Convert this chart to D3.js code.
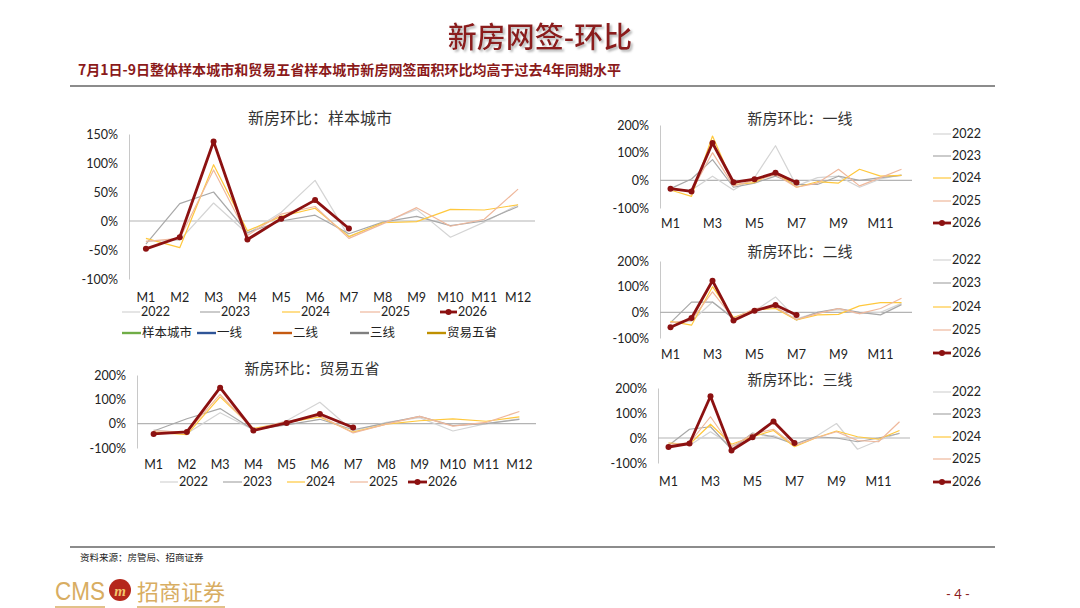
<!DOCTYPE html>
<html>
<head>
<meta charset="utf-8">
<script src="https://cdn.jsdelivr.net/npm/d3@7.9.0/dist/d3.min.js"></script>
<style>
  body { margin: 0; background: #fff; }
  svg { display: block; font-family: Lato, "Noto Sans CJK SC", sans-serif; }
</style>
</head>
<body>
<svg id="slide" width="1080" height="608"></svg>
<script>
// months and series names
const months = ["M1","M2","M3","M4","M5","M6","M7","M8","M9","M10","M11","M12"];
const years = ["2022","2023","2024","2025","2026"];
const yearColors = ["#d4d4d4","#a8a8a8","#ffc83d","#efb89c","#8c1111"];

// 样本城市 (%)
const sample2022 = [-35,-33,31,-22,15,70,-27,-3,20,-28,-2,28];
const sample2023 = [-40,30,50,-20,0,10,-22,-2,8,-8,0,25];
const sample2024 = [-30,-46,97,-17,8,22,-27,-3,-1,20,19,28];
const sample2025 = [-35,-30,88,-25,12,25,-30,-5,23,-9,3,55];
const sample2026 = [-48,-28,137,-32,4,36,-13];

// 贸易五省
const trade2022 = [-25,-40,45,-25,12,88,-30,5,25,-30,0,20];
const trade2023 = [-30,20,62,-25,-5,18,-25,2,30,-8,0,18];
const trade2024 = [-35,-45,110,-20,5,28,-35,-2,12,20,10,28];
const trade2025 = [-30,-35,120,-25,10,32,-38,-2,30,-10,5,50];
const trade2026 = [-42,-34,148,-28,3,40,-16];

// 一线
const tier1_2022 = [-35,-35,15,-35,10,125,-20,10,15,-25,5,20];
const tier1_2023 = [-30,5,75,-25,-10,15,-15,-15,15,0,10,18];
const tier1_2024 = [-35,-58,160,-15,-8,30,-25,-5,-10,40,15,18];
const tier1_2025 = [-30,-40,100,-20,0,20,-25,-10,40,-20,10,40];
const tier1_2026 = [-30,-40,135,-7,4,27,-8];

// 二线
const tier2_2022 = [-40,-35,40,-20,5,60,-25,0,10,-5,0,35];
const tier2_2023 = [-40,40,40,-25,10,20,-30,0,15,0,-10,30];
const tier2_2024 = [-35,-50,100,-20,10,15,-30,-10,-8,25,38,38];
const tier2_2025 = [-40,-30,80,-25,15,20,-28,-5,15,-5,15,55];
const tier2_2026 = [-58,-22,123,-32,6,29,-10];

// 三线
const tier3_2022 = [-20,-30,25,-30,-5,10,-25,5,58,-45,-10,20];
const tier3_2023 = [-30,35,45,-45,20,5,-25,5,0,-15,0,18];
const tier3_2024 = [-20,-25,55,-25,5,30,-35,0,28,5,-5,30];
const tier3_2025 = [-25,-20,85,-35,15,35,-30,0,25,-10,-15,65];
const tier3_2026 = [-36,-22,167,-50,3,66,-20];

// extra legend entries of the first chart (region colours)
const regionNames = ["样本城市","一线","二线","三线","贸易五省"];
const regionColors = ["#70ad47","#2f5597","#c55a11","#7f7f7f","#bf9000"];

const svg = d3.select("#slide");
const darkRed = "#8b1a1a";

// ---------- header ----------
const defs = svg.append("defs");
const shadow = defs.append("filter").attr("id", "shadow")
    .attr("x", "-10%").attr("y", "-10%").attr("width", "130%").attr("height", "140%");
shadow.append("feDropShadow")
    .attr("dx", 2).attr("dy", 2).attr("stdDeviation", 1.2)
    .attr("flood-color", "#999").attr("flood-opacity", 0.7);

svg.append("text")
    .attr("x", 540).attr("y", 48)
    .attr("text-anchor", "middle")
    .attr("filter", "url(#shadow)")
    .style("font-family", "'Noto Sans CJK SC'")
    .style("font-size", "29px")
    .style("font-weight", 500)
    .style("fill", darkRed)
    .text("新房网签-环比");

svg.append("text")
    .attr("x", 78).attr("y", 75)
    .attr("textLength", 543)
    .attr("lengthAdjust", "spacingAndGlyphs")
    .style("font-family", "'Noto Sans CJK SC'")
    .style("font-size", "14px")
    .style("font-weight", "bold")
    .style("fill", darkRed)
    .text("7月1日-9日整体样本城市和贸易五省样本城市新房网签面积环比均高于过去4年同期水平");

svg.append("line")
    .attr("x1", 70).attr("x2", 995).attr("y1", 86).attr("y2", 86)
    .style("stroke", "#8c8c8c").style("stroke-width", 2);

// ---------- chart helper ----------
function drawChart(cfg) {
  const g = svg.append("g");
  const x = d3.scaleBand().domain(months).range([cfg.x0, cfg.x1]).padding(0);
  const y = d3.scaleLinear().domain(cfg.domain).range([cfg.yBot, cfg.yTop]);
  const cx = m => x(m) + x.bandwidth() / 2;

  // y axis
  g.append("g")
      .attr("transform", `translate(${cfg.x0},0)`)
      .call(d3.axisLeft(y).tickValues(cfg.ticks).tickSize(0).tickPadding(11)
            .tickFormat(d => d + "%"))
      .call(a => a.select(".domain").style("stroke", "#c8c8c8"))
      .call(a => a.selectAll("text").style("font-size", "12.5px").style("fill", "#222")
            .style("font-family", "Lato, sans-serif"));

  // zero line
  g.append("line")
      .attr("x1", cfg.x0).attr("x2", cfg.x1)
      .attr("y1", y(0)).attr("y2", y(0))
      .style("stroke", "#b4b4b4").style("stroke-width", 1.2);

  // month labels
  g.append("g")
      .attr("transform", `translate(0,${cfg.labelY - 5})`)
      .call(d3.axisBottom(x).tickValues(cfg.monthTicks).tickSize(0).tickPadding(0))
      .call(a => a.select(".domain").remove())
      .call(a => a.selectAll("text").style("font-size", "12.5px").style("fill", "#222")
            .style("font-family", "Lato, sans-serif"));

  // lines
  const line = d3.line().x((d, i) => cx(months[i])).y(d => y(d));
  cfg.series.forEach((vals, k) => {
    g.append("path")
        .datum(vals)
        .attr("d", line)
        .style("fill", "none")
        .style("stroke", yearColors[k])
        .style("stroke-width", k === 4 ? 2.8 : 1.2)
        .style("stroke-linejoin", "round");
  });
  const last = cfg.series[4];
  g.selectAll("circle.pt")
      .data(last)
      .join("circle")
      .attr("cx", (d, i) => cx(months[i]))
      .attr("cy", d => y(d))
      .attr("r", 3)
      .style("fill", yearColors[4]);

  // title
  g.append("text")
      .attr("x", cfg.titleX).attr("y", cfg.titleY)
      .attr("dy", "0.35em")
      .attr("text-anchor", "middle")
      .style("font-family", "'Noto Sans CJK SC'")
      .style("font-size", cfg.titleSize)
      .style("fill", "#333")
      .text(cfg.title);

  // legend
  cfg.legend.forEach((p, k) => {
    const lg = g.append("g").attr("transform", `translate(${p[0]},${p[1]})`);
    lg.append("line").attr("x1", 0).attr("x2", p[2]).attr("y1", 0).attr("y2", 0)
        .style("stroke", yearColors[k]).style("stroke-width", k === 4 ? 2.8 : 1.2);
    if (k === 4) lg.append("circle").attr("cx", p[2] / 2).attr("cy", 0).attr("r", 3)
        .style("fill", yearColors[k]);
    lg.append("text").attr("x", p[2] + 1).attr("dy", "0.35em")
        .style("font-size", "12.5px").style("fill", "#222")
        .style("font-family", "Lato, sans-serif")
        .text(years[k]);
  });
}

const oddMonths = months.filter((m, i) => i % 2 === 0);

drawChart({
  title: "新房环比：样本城市", titleX: 320, titleY: 118, titleSize: "16px",
  x0: 129, x1: 535, yTop: 134, yBot: 279, domain: [-100, 150],
  ticks: [-100, -50, 0, 50, 100, 150], labelY: 298, monthTicks: months,
  series: [sample2022, sample2023, sample2024, sample2025, sample2026],
  legend: [[122, 312, 18], [200, 312, 20], [282, 312, 18], [360, 312, 20], [440, 312, 17]]
});

// second legend row of the first chart
regionNames.forEach((name, k) => {
  const xs = [122, 197, 273, 350, 427];
  const lg = svg.append("g").attr("transform", `translate(${xs[k]},333)`);
  lg.append("line").attr("x1", 0).attr("x2", 19).style("stroke", regionColors[k]).style("stroke-width", 2.4);
  lg.append("text").attr("x", 20).attr("dy", "0.35em")
      .style("font-family", "'Noto Sans CJK SC'").style("font-size", "12.5px").style("fill", "#222")
      .text(name);
});

drawChart({
  title: "新房环比：贸易五省", titleX: 312, titleY: 369, titleSize: "15px",
  x0: 137, x1: 536, yTop: 375, yBot: 448, domain: [-100, 200],
  ticks: [-100, 0, 100, 200], labelY: 465, monthTicks: months,
  series: [trade2022, trade2023, trade2024, trade2025, trade2026],
  legend: [[160, 482, 18], [223, 482, 19], [287, 482, 18], [350, 482, 18], [408, 482, 19]]
});

const rightLegend = ys => ys.map(v => [933, v, 18]);

drawChart({
  title: "新房环比：一线", titleX: 800, titleY: 119, titleSize: "15px",
  x0: 660, x1: 912, yTop: 125, yBot: 208, domain: [-100, 200],
  ticks: [-100, 0, 100, 200], labelY: 224, monthTicks: oddMonths,
  series: [tier1_2022, tier1_2023, tier1_2024, tier1_2025, tier1_2026],
  legend: rightLegend([134, 156, 178, 201, 223])
});

drawChart({
  title: "新房环比：二线", titleX: 800, titleY: 252, titleSize: "15px",
  x0: 660, x1: 912, yTop: 261, yBot: 338, domain: [-100, 200],
  ticks: [-100, 0, 100, 200], labelY: 355, monthTicks: oddMonths,
  series: [tier2_2022, tier2_2023, tier2_2024, tier2_2025, tier2_2026],
  legend: rightLegend([260, 283, 307, 330, 353])
});

drawChart({
  title: "新房环比：三线", titleX: 800, titleY: 380, titleSize: "15px",
  x0: 658, x1: 910, yTop: 388, yBot: 463, domain: [-100, 200],
  ticks: [-100, 0, 100, 200], labelY: 482, monthTicks: oddMonths,
  series: [tier3_2022, tier3_2023, tier3_2024, tier3_2025, tier3_2026],
  legend: rightLegend([392, 414, 437, 459, 482])
});

// ---------- footer ----------
svg.append("line")
    .attr("x1", 70).attr("x2", 995).attr("y1", 547).attr("y2", 547)
    .style("stroke", "#8c8c8c").style("stroke-width", 2);

svg.append("text")
    .attr("x", 80).attr("y", 561)
    .style("font-family", "'Noto Sans CJK SC'")
    .style("font-size", "9.5px").style("fill", "#222")
    .text("资料来源：房管局、招商证券");

const gold = "#d8ad62";
svg.append("text")
    .attr("x", 55).attr("y", 600)
    .attr("textLength", 50).attr("lengthAdjust", "spacingAndGlyphs")
    .style("font-family", "'Liberation Sans Narrow', 'Liberation Sans', sans-serif")
    .style("font-size", "25px").style("fill", gold)
    .text("CMS");
svg.append("circle").attr("cx", 120).attr("cy", 590).attr("r", 11).style("fill", "#b5281c");
svg.append("text")
    .attr("x", 120).attr("y", 596).attr("text-anchor", "middle")
    .style("font-family", "'Liberation Serif', serif").style("font-weight", "bold")
    .style("font-size", "15px").style("font-style", "italic").style("fill", "#f2c66d")
    .text("m");
svg.append("text")
    .attr("x", 137).attr("y", 600)
    .attr("textLength", 88).attr("lengthAdjust", "spacingAndGlyphs")
    .style("font-family", "'Noto Sans CJK SC'")
    .style("font-size", "22px").style("fill", gold)
    .text("招商证券");
svg.append("line").attr("x1", 55).attr("x2", 105).attr("y1", 607).attr("y2", 607)
    .style("stroke", gold).style("stroke-width", 1.5);
svg.append("line").attr("x1", 137).attr("x2", 225).attr("y1", 607).attr("y2", 607)
    .style("stroke", gold).style("stroke-width", 1.5);

svg.append("text")
    .attr("x", 958).attr("y", 599).attr("text-anchor", "middle")
    .style("font-size", "13px").style("fill", darkRed)
    .text("- 4 -");
</script>
</body>
</html>
